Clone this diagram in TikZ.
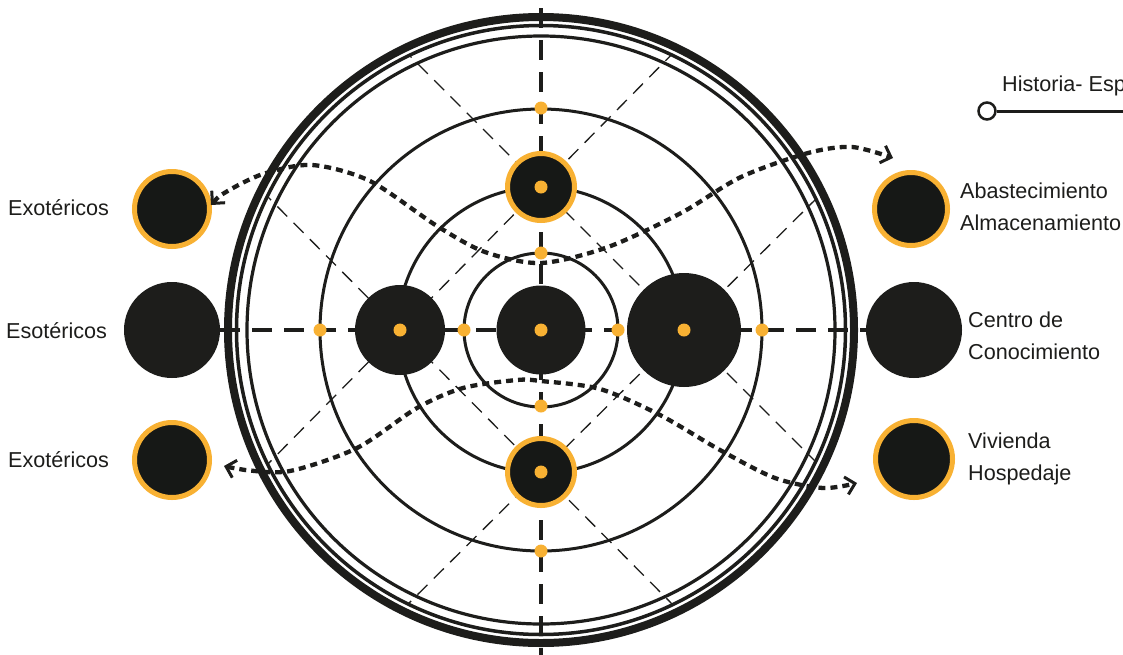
\documentclass[tikz,border=0pt]{standalone}
\usepackage{fontspec}
\setmainfont{Liberation Sans}
\usetikzlibrary{arrows.meta}
\definecolor{ink}{HTML}{1D1D1B}
\definecolor{ringink}{HTML}{161816}
\definecolor{gold}{HTML}{F8B133}
\pgfdeclarelayer{back}
\pgfdeclarelayer{mid}
\pgfsetlayers{back,mid,main}
\begin{document}
\begin{tikzpicture}[x=1pt,y=-1pt,
  disc/.style={circle, fill=ink, draw=none, inner sep=0pt},
  ringdisc/.style={circle, fill=ringink, draw=gold, line width=5pt, inner sep=0pt},
  gdot/.style={circle, fill=gold, draw=none, inner sep=0pt, minimum size=13pt},
  orbit/.style={draw=ink, line width=3pt},
  axisline/.style={draw=ink, line width=3.7pt, dash pattern=on 20pt off 12pt},
  diag/.style={draw=ink, line width=1.3pt, dash pattern=on 14pt off 9pt},
  flow/.style={draw=ink, line width=4.3pt, dash pattern=on 7pt off 5pt,
    {Straight Barb[length=9pt,width=18pt,line width=3pt]}-{Straight Barb[length=9pt,width=18pt,line width=3pt]}},
  lbl/.style={font=\fontsize{21.6}{31.5}\selectfont, text=ink, inner sep=0pt, anchor=west, align=left}
]
\begin{pgfonlayer}{back}
\fill[white] (0,0) rectangle (1123,654);
\end{pgfonlayer}
\useasboundingbox (0,0) rectangle (1123,654);

% central discs
\node[disc, minimum size=89pt] (c0) at (541,330) {};
\node[disc, minimum size=90pt] (cL) at (400,330) {};
\node[disc, minimum size=114pt] (cR) at (684,330) {};
\node[ringdisc, minimum size=67pt] (cT) at (541,187) {};
\node[ringdisc, minimum size=67pt] (cB) at (541,472) {};

% outer discs
\node[disc, minimum size=96pt] (eso) at (172,330) {};
\node[disc, minimum size=96pt] (cen) at (914,330) {};
\node[ringdisc, minimum size=75pt] (ex1) at (172,209) {};
\node[ringdisc, minimum size=75pt] (ex2) at (172,460) {};
\node[ringdisc, minimum size=73pt] (aba) at (911,209) {};
\node[ringdisc, minimum size=77pt] (viv) at (914,459) {};

% labels
\node[lbl] (tEx1) at (8,208) {Exotéricos};
\node[lbl] (tEso) at (6,331) {Esotéricos};
\node[lbl] (tEx2) at (8,460) {Exotéricos};
\node[lbl] (tAba) at (960,207) {Abastecimiento\\Almacenamiento};
\node[lbl] (tCen) at (968,336) {Centro de\\Conocimiento};
\node[lbl] (tViv) at (968,459) {Vivienda\\Hospedaje};
\node[lbl] (tHis) at (1002,86) {Historia- Esp};

% legend mark
\node[circle, draw=ink, fill=white, line width=2.5pt, minimum size=17pt, inner sep=0pt] (hm) at (987,111) {};
\coordinate (hEnd) at (1135,111);
\draw[ink, line width=3pt] (hm.east) -- (hEnd);

% diagonal square lines
\begin{pgfonlayer}{back}
\begin{scope}
\clip (c0.center) circle[radius=305];
\draw[diag, shorten <=-220pt, shorten >=-220pt] (cT.center) -- (cR.center);
\draw[diag, shorten <=-220pt, shorten >=-220pt] (cL.center) -- (cB.center);
\draw[diag, shorten <=-220pt, shorten >=-220pt] (cL.center) -- (cT.center);
\draw[diag, shorten <=-220pt, shorten >=-220pt] (cB.center) -- (cR.center);
\end{scope}
\end{pgfonlayer}

% rings, orbits, axes
\coordinate (vTop) at (541,8);
\coordinate (vBot) at (541,660);
\begin{pgfonlayer}{mid}
\draw[ink, line width=8pt] (c0.center) circle[radius=313];
\draw[ink, line width=3.5pt] (c0.center) circle[radius=304.5];
\draw[ink, line width=3.2pt] (c0.center) circle[radius=294];
\draw[orbit] (c0.center) circle[radius=221];
\draw[orbit] (c0.center) circle[radius=143];
\draw[orbit] (c0.center) circle[radius=77];
\draw[axisline] (vTop) -- (vBot);
\draw[axisline] (eso.east) -- (cen.west);
\end{pgfonlayer}

% flows
\coordinate (ua) at (211,205);
\coordinate (ub) at (893,158);
\coordinate (la) at (224,466);
\coordinate (lb) at (857,483);
\draw[flow] plot[smooth] coordinates {(ua) (226,192) (263,174) (312,165) (370,181) (437,226) (485,252) (541,263) (608,247) (681,213) (741,177) (808,153) (852,147) (ub)};
\draw[flow] plot[smooth] coordinates {(la) (245,470) (290,471) (357,448) (417,408) (463,388) (517,380) (541,381) (600,389) (660,415) (720,450) (775,478) (823,488) (lb)};

% orange dots
\node[gdot] (d0) at (c0.center) {};
\node[gdot] (dL) at (cL.center) {};
\node[gdot] (dR) at (cR.center) {};
\node[gdot] (dT) at (cT.center) {};
\node[gdot] (dB) at (cB.center) {};
\node[gdot] (o1) at (541,108) {};
\node[gdot] (o2) at (541,253) {};
\node[gdot] (o3) at (541,406) {};
\node[gdot] (o4) at (541,551) {};
\node[gdot] (o5) at (320,330) {};
\node[gdot] (o6) at (464,330) {};
\node[gdot] (o7) at (618,330) {};
\node[gdot] (o8) at (762,330) {};
\end{tikzpicture}
\end{document}
